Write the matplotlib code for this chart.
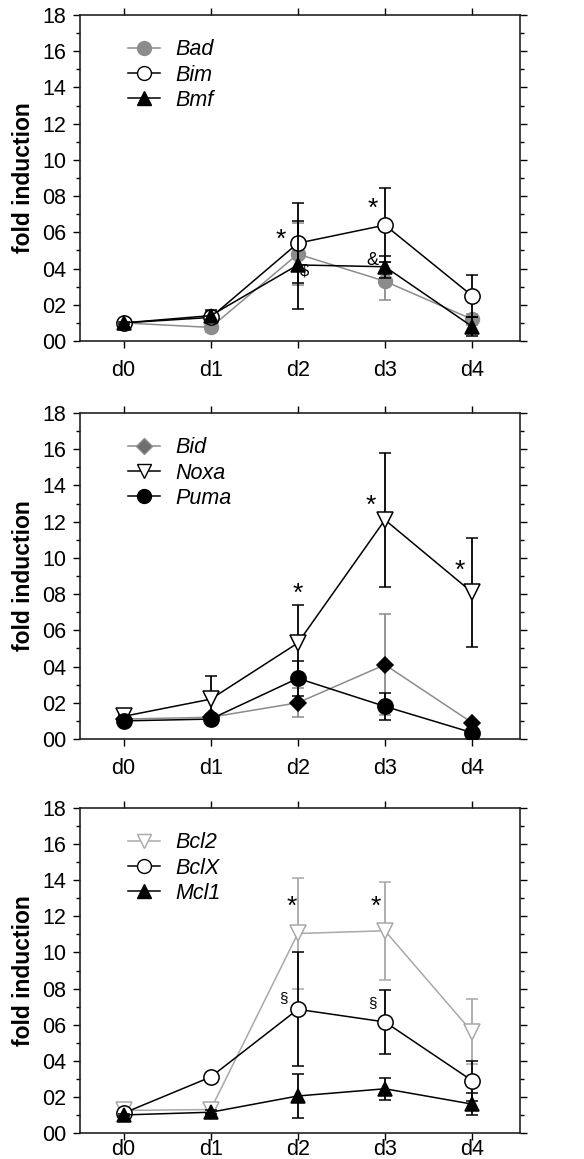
import matplotlib
matplotlib.use('Agg')
import matplotlib.pyplot as plt
import numpy as np
from matplotlib.lines import Line2D

plt.rcParams['font.family'] = ['Liberation Sans', 'DejaVu Sans']

days = ['d0', 'd1', 'd2', 'd3', 'd4']
ytick_labels = ['00', '02', '04', '06', '08', '10', '12', '14', '16', '18']

# panel 1
bad = [1.0, 0.75, 4.8, 3.3, 1.2]
bad_err = [0.05, 0.25, 1.7, 1.05, 0.3]
bim = [1.0, 1.3, 5.4, 6.4, 2.5]
bim_err = [0.05, 0.3, 2.2, 2.05, 1.15]
bmf = [1.0, 1.4, 4.2, 4.1, 0.8]
bmf_err = [0.05, 0.3, 2.45, 0.6, 0.5]

# panel 2
bid = [1.1, 1.2, 2.0, 4.1, 0.9]
bid_err = [0.05, 0.2, 0.8, 2.8, 0.1]
noxa = [1.25, 2.2, 5.3, 12.1, 8.1]
noxa_err = [0.1, 1.3, 2.1, 3.7, 3.0]
puma = [1.0, 1.1, 3.35, 1.8, 0.35]
puma_err = [0.05, 0.1, 0.95, 0.75, 0.1]

# panel 3
bcl2 = [1.25, 1.3, 11.05, 11.2, 5.6]
bcl2_err = [0.1, 0.2, 3.05, 2.7, 1.8]
bclx = [1.1, 3.1, 6.85, 6.15, 2.9]
bclx_err = [0.05, 0.1, 3.15, 1.75, 1.1]
mcl1 = [1.0, 1.15, 2.05, 2.45, 1.6]
mcl1_err = [0.05, 0.1, 1.2, 0.6, 0.6]

W, H = 584, 1159
fig = plt.figure(figsize=(W / 100, H / 100), dpi=100)


def make_axes(top, bottom, xpad=9):
    ax = fig.add_axes([80 / W, 1 - bottom / H, 440 / W, (bottom - top) / H])
    x = np.arange(len(days))
    ax.set_xlim(-0.5, 4.55)
    ax.set_ylim(0, 18)
    ax.set_xticks(x)
    ax.set_xticklabels(days, fontsize=15.5)
    ax.set_yticks(np.arange(0, 19, 2))
    ax.set_yticklabels(ytick_labels, fontsize=15.5)
    ax.set_yticks(np.arange(1, 18, 2), minor=True)
    ax.tick_params(axis='both', which='major', direction='out', length=5, width=1,
                   top=True, right=True)
    ax.tick_params(axis='y', which='major', pad=5)
    ax.tick_params(axis='x', which='major', pad=xpad)
    ax.tick_params(axis='y', which='minor', direction='out', length=3, width=1, right=True)
    for s in ax.spines.values():
        s.set_linewidth(1.2)
        s.set_color('#222222')
    ax.set_ylabel('fold induction', fontsize=16.5, fontweight='bold', labelpad=5)
    return ax


def series(ax, y, err, color, marker, mfc, ms=10, z=3, mec=None):
    x = np.arange(len(days))
    ax.errorbar(x, y, yerr=err, color=color, lw=1.1, elinewidth=1.3, capsize=4,
                capthick=1.3, marker=marker, ms=ms, mfc=mfc, mec=mec or color, mew=1.1, zorder=z)


def legend(ax, names, styles):
    handles = [Line2D([], [], color=c, lw=1.1, marker=m, ms=ms, mfc=f, mec=c) for c, m, f, ms in styles]
    ax.legend(handles, names, loc='upper left', bbox_to_anchor=(0.065, 0.985), frameon=False,
              handlelength=1.5, handletextpad=0.7, labelspacing=0.2,
              prop={'style': 'italic', 'size': 15.5})


gray = '#8c8c8c'
lgray = '#a8a8a8'

# ---- panel 1
ax1 = make_axes(15, 341)
series(ax1, bad, bad_err, gray, 'o', gray, z=2)
series(ax1, bim, bim_err, 'k', 'o', 'white', ms=11, z=3)
series(ax1, bmf, bmf_err, 'k', '^', 'k', z=4)
legend(ax1, ['Bad', 'Bim', 'Bmf'],
       [(gray, 'o', gray, 10), ('k', 'o', 'white', 10), ('k', '^', 'k', 10)])
ax1.text(1.8, 5.6, '*', fontsize=19, ha='center', va='center')
ax1.text(2.855, 7.3, '*', fontsize=19, ha='center', va='center')
ax1.text(2.08, 3.85, '$', fontsize=12, ha='center', va='center')
ax1.text(2.86, 4.45, '&', fontsize=13, ha='center', va='center')

# ---- panel 2
ax2 = make_axes(413, 739)
series(ax2, bid, bid_err, gray, 'D', 'k', ms=8, z=2, mec='k')
series(ax2, noxa, noxa_err, 'k', 'v', 'white', ms=11, z=3)
series(ax2, puma, puma_err, 'k', 'o', 'k', ms=11, z=4)
legend(ax2, ['Bid', 'Noxa', 'Puma'],
       [(gray, 'D', '#6e6e6e', 8), ('k', 'v', 'white', 10), ('k', 'o', 'k', 10)])
ax2.text(2.0, 8.0, '*', fontsize=19, ha='center', va='center')
ax2.text(2.84, 12.9, '*', fontsize=19, ha='center', va='center')
ax2.text(3.86, 9.3, '*', fontsize=19, ha='center', va='center')

# ---- panel 3 (bottom labels sit right at the lower edge, as in the source)
ax3 = make_axes(808, 1133, xpad=-1)
series(ax3, bcl2, bcl2_err, lgray, 'v', 'white', ms=11, z=2)
series(ax3, bclx, bclx_err, 'k', 'o', 'white', ms=11, z=3)
series(ax3, mcl1, mcl1_err, 'k', '^', 'k', ms=10, z=4)
legend(ax3, ['Bcl2', 'BclX', 'Mcl1'],
       [(lgray, 'v', 'white', 10), ('k', 'o', 'white', 10), ('k', '^', 'k', 10)])
ax3.text(1.93, 12.5, '*', fontsize=19, ha='center', va='center')
ax3.text(2.89, 12.5, '*', fontsize=19, ha='center', va='center')
ax3.text(1.84, 7.5, '§', fontsize=11, ha='center', va='center')
ax3.text(2.86, 7.2, '§', fontsize=11, ha='center', va='center')

fig.savefig('out.png', dpi=100)
